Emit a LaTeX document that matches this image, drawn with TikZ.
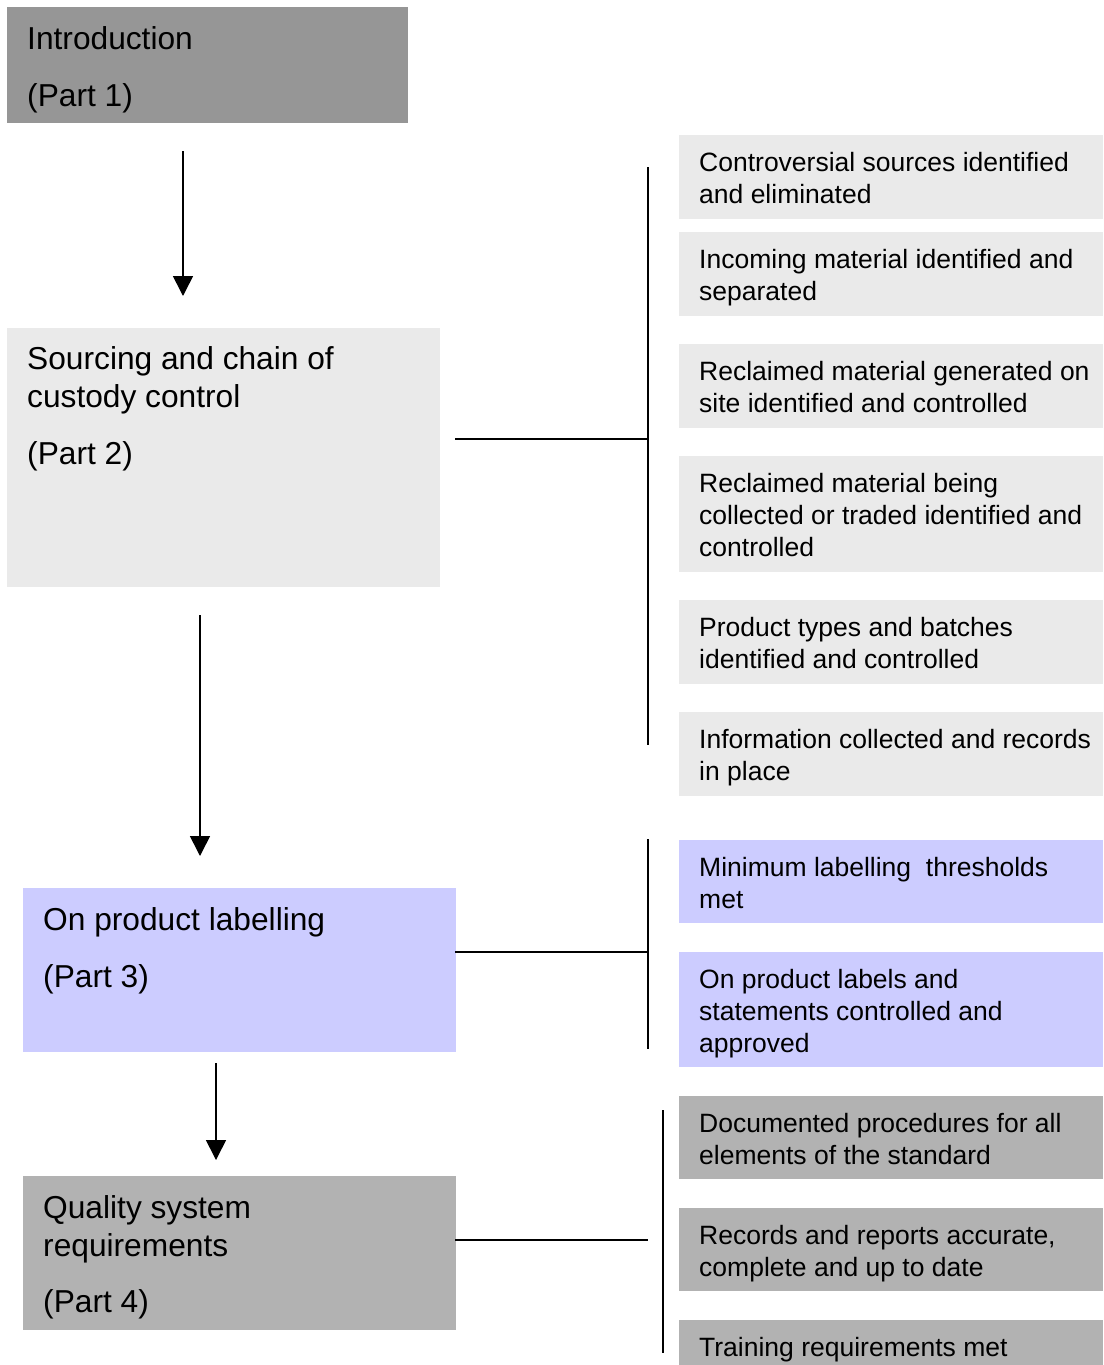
\documentclass[tikz,border=0pt]{standalone}
\usepackage{fontspec}
\setmainfont{Liberation Sans}
\usetikzlibrary{arrows.meta,calc}
\definecolor{introgray}{HTML}{969696}
\definecolor{lightgray}{HTML}{EAEAEA}
\definecolor{lilac}{HTML}{CCCCFF}
\definecolor{midgray}{HTML}{B2B2B2}
\newcommand{\mylines}[1]{\begin{tabular}[t]{@{}l@{}}#1\end{tabular}}
\begin{document}
\begin{tikzpicture}[x=1pt,y=-1pt,
  boxshape/.style={inner sep=0pt, outer sep=0pt, draw=none, anchor=north west},
  bigtxt/.style={inner sep=0pt, anchor=base west, font=\fontsize{31.7}{38}\selectfont},
  smalltxt/.style={inner sep=0pt, anchor=base west, font=\fontsize{26.5}{32}\selectfont},
  conn/.style={line width=1.6pt, black},
  arr/.style={line width=1.6pt, black, -{Triangle[width=20pt,length=20pt]}}
]
\useasboundingbox (0,0) rectangle (1103,1365);
\fill[white] (0,0) rectangle (1103,1365);

% left boxes
\node[boxshape, fill=introgray, minimum width=401pt, minimum height=116pt] (intro) at (7,7) {};
\node[bigtxt] (introT) at ($(intro.north west)+(20,42)$) {\mylines{Introduction\\[19pt] (Part 1)}};

\node[boxshape, fill=lightgray, minimum width=433pt, minimum height=259pt] (p2) at (7,328) {};
\node[bigtxt] (p2T) at ($(p2.north west)+(20,41)$) {\mylines{Sourcing and chain of\\ custody control\\[19pt] (Part 2)}};

\node[boxshape, fill=lilac, minimum width=433pt, minimum height=164pt] (p3) at (23,888) {};
\node[bigtxt] (p3T) at ($(p3.north west)+(20,42)$) {\mylines{On product labelling\\[19pt] (Part 3)}};

\node[boxshape, fill=midgray, minimum width=433pt, minimum height=154pt] (p4) at (23,1176) {};
\node[bigtxt] (p4T) at ($(p4.north west)+(20,42)$) {\mylines{Quality system\\ requirements\\[18pt] (Part 4)}};

% right boxes
\foreach \nm/\top/\h/\col/\txt in {
  r1/135/84/lightgray/{Controversial sources identified\\ and eliminated},
  r2/232/84/lightgray/{Incoming material identified and\\ separated},
  r3/344/84/lightgray/{Reclaimed material generated on\\ site identified and controlled},
  r4/456/116/lightgray/{Reclaimed material being\\ collected or traded identified and\\ controlled},
  r5/600/84/lightgray/{Product types and batches\\ identified and controlled},
  r6/712/84/lightgray/{Information collected and records\\ in place},
  r7/840/83/lilac/{Minimum labelling\ \ thresholds\\ met},
  r8/952/115/lilac/{On product labels and\\ statements controlled and\\ approved},
  r9/1096/83/midgray/{Documented procedures for all\\ elements of the standard},
  r10/1208/83/midgray/{Records and reports accurate,\\ complete and up to date},
  r11/1320/45/midgray/{Training requirements met}}{
  \node[boxshape, fill=\col, minimum width=424pt, minimum height=\h pt] (\nm) at (679,\top) {};
  \node[smalltxt] (\nm T) at ($(\nm.north west)+(20,36.5)$) {\mylines{\txt}};
}

% arrows
\coordinate (a1s) at (183,151); \coordinate (a1e) at (183,296);
\coordinate (a2s) at (200,615); \coordinate (a2e) at (200,856);
\coordinate (a3s) at (216,1063); \coordinate (a3e) at (216,1160);
\draw[arr] (a1s) -- (a1e);
\draw[arr] (a2s) -- (a2e);
\draw[arr] (a3s) -- (a3e);

% brackets
\coordinate (v1t) at (648,167); \coordinate (v1b) at (648,745);
\coordinate (h1s) at (455,439); \coordinate (h1e) at (648,439);
\coordinate (v2t) at (648,839); \coordinate (v2b) at (648,1049);
\coordinate (h2s) at (455,952); \coordinate (h2e) at (648,952);
\coordinate (v3t) at (663,1110); \coordinate (v3b) at (663,1353);
\coordinate (h3s) at (455,1240); \coordinate (h3e) at (648,1240);
\draw[conn] (v1t) -- (v1b);
\draw[conn] (h1s) -- (h1e);
\draw[conn] (v2t) -- (v2b);
\draw[conn] (h2s) -- (h2e);
\draw[conn] (v3t) -- (v3b);
\draw[conn] (h3s) -- (h3e);
\end{tikzpicture}
\end{document}
